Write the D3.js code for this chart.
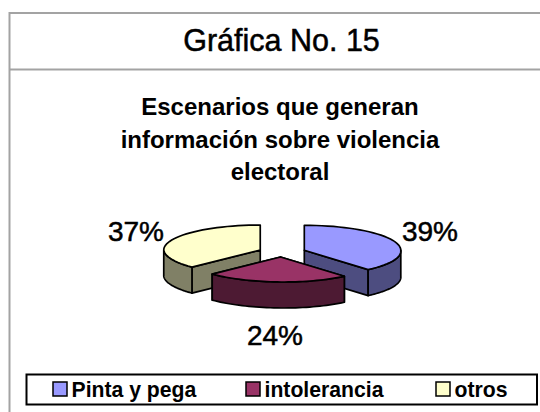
<!DOCTYPE html>
<html><head><meta charset="utf-8">
<script src="https://cdn.jsdelivr.net/npm/d3@7"></script>
<style>html,body{margin:0;padding:0;background:#fff}svg{display:block}text{font-family:"Liberation Sans",Arial,sans-serif;fill:#000}</style>
</head><body><svg id="c" width="540" height="412"></svg>
<script>
const heading = "Gráfica No. 15";
const titleLines = ["Escenarios que generan", "información sobre violencia", "electoral"];
const categories = ["Pinta y pega", "intolerancia", "otros"];
const values = [39, 24, 37];
const topColors = ["#9999FF", "#993366", "#FFFFCC"];
const sideColors = ["#4D4D80", "#4D1A33", "#808066"];

const svg = d3.select("#c");
const cx = 282, cy = 252, rx = 96.5, ry = 25, depth = 26, explodeX = 23.7, explodeY = 5, lean = 3;
const labelPos = [[430, 241], [275, 345], [136, 241]];

// frame
const frame = "#a3a3a3";
svg.append("path").attr("d", "M540,13H9.5V412M9.5,69.5H540").attr("fill", "none").attr("stroke", frame).attr("stroke-width", 2);
svg.append("text").attr("x", 281.5).attr("y", 51).attr("text-anchor", "middle").attr("font-size", 30.5)
  .attr("stroke", "#000").attr("stroke-width", 0.5).text(heading);
svg.selectAll("text.t").data(titleLines).join("text").attr("class", "t")
  .attr("x", 280).attr("y", (d, i) => 115 + i * 32.5).attr("text-anchor", "middle")
  .attr("font-size", 24).attr("font-weight", "bold").text(d => d);

// pie
const arcs = d3.pie().sort(null)(values);
const line = d3.line();
const pt = (o, a, dy = 0) => [o[0] + rx * Math.sin(a) + lean * Math.max(0, -Math.cos(a)), o[1] - ry * Math.cos(a) + dy];
const sample = (o, a0, a1, dy = 0) => d3.range(41).map(i => pt(o, a0 + (a1 - a0) * i / 40, dy));
const origin = d => {
  const m = (d.startAngle + d.endAngle) / 2;
  return [cx + explodeX * Math.sin(m), cy - explodeY * Math.cos(m)];
};
const g = svg.append("g").attr("stroke", "#000").attr("stroke-width", 1.7).attr("stroke-linejoin", "round");
[2, 0, 1].forEach(i => {
  const d = arcs[i], o = origin(d), side = sideColors[i], PI = Math.PI;
  // cut faces
  [d.startAngle, d.endAngle].forEach(a => {
    const p = pt(o, a);
    if (a > 0.01 && a < 2 * PI - 0.01) {
      g.append("path").attr("fill", side).attr("d", line([o, p, [p[0], p[1] + depth], [o[0], o[1] + depth]]) + "Z");
    }
  });
  // outer wall
  const a0 = Math.max(d.startAngle, PI / 2), a1 = Math.min(d.endAngle, 3 * PI / 2);
  if (a1 > a0) {
    g.append("path").attr("fill", side).attr("d", line(sample(o, a0, a1).concat(sample(o, a1, a0, depth))) + "Z");
  }
  // top face
  g.append("path").attr("fill", topColors[i]).attr("d", line([o].concat(sample(o, d.startAngle, d.endAngle))) + "Z");
});
svg.selectAll("text.p").data(values).join("text").attr("class", "p")
  .attr("x", (d, i) => labelPos[i][0]).attr("y", (d, i) => labelPos[i][1])
  .attr("text-anchor", "middle").attr("font-size", 28).attr("stroke", "#000").attr("stroke-width", 0.5).text(d => d + "%");

// legend
svg.append("rect").attr("x", 26.5).attr("y", 374.5).attr("width", 510.5).attr("height", 30).attr("fill", "#fff").attr("stroke", "#000").attr("stroke-width", 2);
const legendX = [53, 246, 436];
const lg = svg.selectAll("g.l").data(categories).join("g").attr("class", "l").attr("transform", (d, i) => `translate(${legendX[i]},382)`);
lg.append("rect").attr("width", 14).attr("height", 14).attr("fill", (d, i) => topColors[i]).attr("stroke", "#000").attr("stroke-width", 1.5);
lg.append("text").attr("x", 18.5).attr("y", 15).attr("font-size", 21.2).attr("font-weight", "bold").text(d => d);
</script></body></html>
